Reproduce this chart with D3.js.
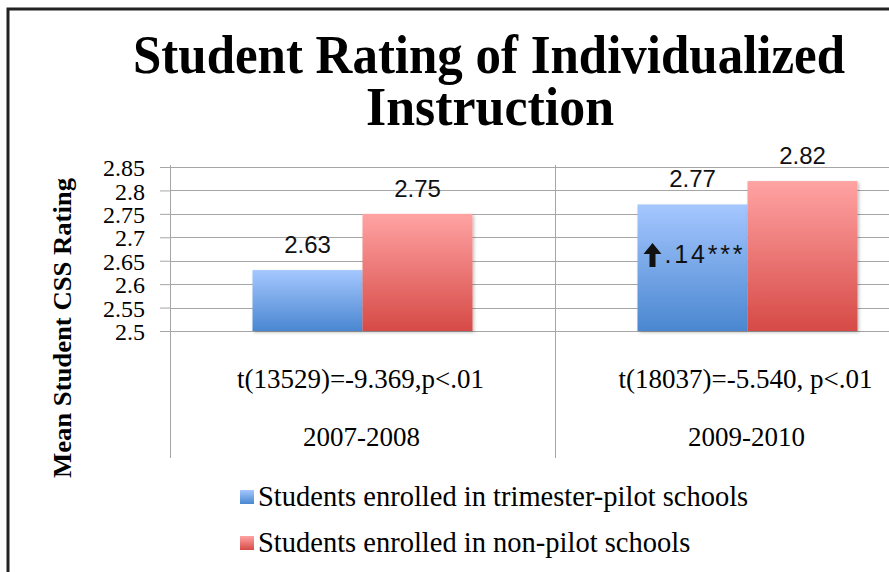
<!DOCTYPE html>
<html>
<head>
<meta charset="utf-8">
<script src="https://cdn.jsdelivr.net/npm/d3@7"></script>
<style>
  body { margin: 0; background: #fff; }
  svg { display: block; }
</style>
</head>
<body>
<div id="chart"></div>
<script>
// data
var categories = ["2007-2008", "2009-2010"];
var testLabels = ["t(13529)=-9.369,p<.01", "t(18037)=-5.540, p<.01"];
var seriesNames = ["Students enrolled in trimester-pilot schools", "Students enrolled in non-pilot schools"];
var pilotValues = [2.63, 2.77];
var nonPilotValues = [2.75, 2.82];
var yTicks = [2.5, 2.55, 2.6, 2.65, 2.7, 2.75, 2.8, 2.85];

var width = 889, height = 572;
var serif = "'Liberation Serif', 'DejaVu Serif', serif";
var sans = "'Liberation Sans', Arial, sans-serif";

var svg = d3.select("#chart").append("svg")
    .attr("width", width)
    .attr("height", height);

var defs = svg.append("defs");
function grad(id, top, bottom) {
    var g = defs.append("linearGradient").attr("id", id)
        .attr("x1", 0).attr("y1", 0).attr("x2", 0).attr("y2", 1);
    g.append("stop").attr("offset", "0%").attr("stop-color", top);
    g.append("stop").attr("offset", "100%").attr("stop-color", bottom);
}
grad("gBlue", "#a5c7ff", "#4a87d0");
grad("gRed", "#ffa3a3", "#d64a46");
var shadow = defs.append("filter").attr("id", "shadow")
    .attr("x", "-10%").attr("y", "-10%").attr("width", "130%").attr("height", "130%");
shadow.append("feDropShadow").attr("dx", 1.5).attr("dy", 1.5).attr("stdDeviation", 1.5)
    .attr("flood-color", "#000").attr("flood-opacity", 0.25);

// frame (only left and top edges visible)
svg.append("path")
    .attr("d", "M8,572 V9 H889")
    .attr("fill", "none")
    .attr("stroke", "#222")
    .attr("stroke-width", 3);

// title
function titleLine(txt, cx, y, len) {
    svg.append("text")
        .attr("x", cx).attr("y", y)
        .attr("text-anchor", "middle")
        .attr("textLength", len).attr("lengthAdjust", "spacingAndGlyphs")
        .style("font-family", serif)
        .style("font-weight", "bold")
        .style("font-size", "54px")
        .attr("fill", "#000")
        .text(txt);
}
titleLine("Student Rating of Individualized", 489, 73, 712);
titleLine("Instruction", 490, 125, 248);

var plotLeft = 170, plotTop = 167, plotBottom = 331;
var x = d3.scaleBand().domain(categories).range([plotLeft, plotLeft + 770]);
var y = d3.scaleLinear().domain([2.5, 2.85]).range([plotBottom, plotTop]);
var x1 = d3.scaleBand().domain([0, 1]).range([0, x.bandwidth()]).paddingOuter(0.75).paddingInner(0);

// y axis with tick marks
var yAxis = d3.axisLeft(y).tickValues(yTicks)
    .tickFormat(function(d) { return String(+d.toFixed(2)); })
    .tickSize(10).tickPadding(15);
var yg = svg.append("g").attr("transform", "translate(" + plotLeft + ",0)").call(yAxis);
yg.attr("font-family", null).attr("font-size", null);
yg.select(".domain").remove();
yg.selectAll(".tick line").attr("stroke", "#a6a6a6");
yg.selectAll(".tick text")
    .attr("dy", "0.36em")
    .style("font-family", serif).style("font-size", "24px").attr("fill", "#000");

// gridlines
svg.append("g").selectAll("line").data(yTicks).enter().append("line")
    .attr("x1", plotLeft).attr("x2", width)
    .attr("y1", function(d) { return Math.round(y(d)) + 0.5; })
    .attr("y2", function(d) { return Math.round(y(d)) + 0.5; })
    .attr("stroke", "#a6a6a6");

// category separators
var seps = [plotLeft, x(categories[1])];
svg.append("g").selectAll("line").data(seps).enter().append("line")
    .attr("x1", function(d) { return d + 0.5; }).attr("x2", function(d) { return d + 0.5; })
    .attr("y1", plotTop - 2).attr("y2", 458)
    .attr("stroke", "#a6a6a6");

// bars
var groups = svg.append("g").selectAll("g").data(categories).enter().append("g")
    .attr("transform", function(d) { return "translate(" + x(d) + ",0)"; });

groups.each(function(cat, i) {
    var g = d3.select(this);
    var vals = [pilotValues[i], nonPilotValues[i]];
    g.selectAll("rect").data(vals).enter().append("rect")
        .attr("x", function(d, j) { return x1(j); })
        .attr("width", x1.bandwidth())
        .attr("y", function(d) { return y(d); })
        .attr("height", function(d) { return y(2.5) - y(d); })
        .attr("fill", function(d, j) { return j === 0 ? "url(#gBlue)" : "url(#gRed)"; })
        .attr("filter", "url(#shadow)");
    g.selectAll("text.val").data(vals).enter().append("text")
        .attr("class", "val")
        .attr("x", function(d, j) { return x1(j) + x1.bandwidth() / 2; })
        .attr("y", function(d) { return y(d) - 17; })
        .attr("text-anchor", "middle")
        .style("font-family", sans).style("font-size", "24px").attr("fill", "#111")
        .text(function(d) { return d.toFixed(2); });
    g.append("text")
        .attr("x", x.bandwidth() / 2 - 2).attr("y", 388)
        .attr("text-anchor", "middle")
        .style("font-family", serif).style("font-size", "27px").attr("fill", "#000")
        .text(testLabels[i]);
    g.append("text")
        .attr("x", x.bandwidth() / 2 - 1).attr("y", 446)
        .attr("text-anchor", "middle")
        .style("font-family", serif).style("font-size", "27px").attr("fill", "#000")
        .text(cat);
});

// annotation inside the 2009-2010 pilot bar
var ax = x(categories[1]) + x1(0) + 6;
svg.append("path")
    .attr("d", "M" + (ax + 9) + ",243 l9,11 h-6 v13 h-6 v-13 h-6 z")
    .attr("fill", "#111");
svg.append("text")
    .attr("x", ax + 21).attr("y", 263)
    .attr("textLength", 78).attr("lengthAdjust", "spacing")
    .style("font-family", sans).style("font-size", "25px").attr("fill", "#111")
    .text(".14***");

// y axis title
svg.append("text")
    .attr("transform", "translate(71,328) rotate(-90)")
    .attr("text-anchor", "middle")
    .attr("textLength", 300).attr("lengthAdjust", "spacingAndGlyphs")
    .style("font-family", serif).style("font-weight", "bold").style("font-size", "26px")
    .attr("fill", "#000")
    .text("Mean Student CSS Rating");

// legend
var legend = svg.append("g").selectAll("g").data(seriesNames).enter().append("g")
    .attr("transform", function(d, i) { return "translate(240," + (490 + i * 46) + ")"; });
legend.append("rect")
    .attr("width", 14).attr("height", 14)
    .attr("fill", function(d, i) { return i === 0 ? "url(#gBlue)" : "url(#gRed)"; });
legend.append("text")
    .attr("x", 18).attr("y", 16)
    .style("font-family", serif).style("font-size", "28.5px").attr("fill", "#000")
    .text(function(d) { return d; });
</script>
</body>
</html>
